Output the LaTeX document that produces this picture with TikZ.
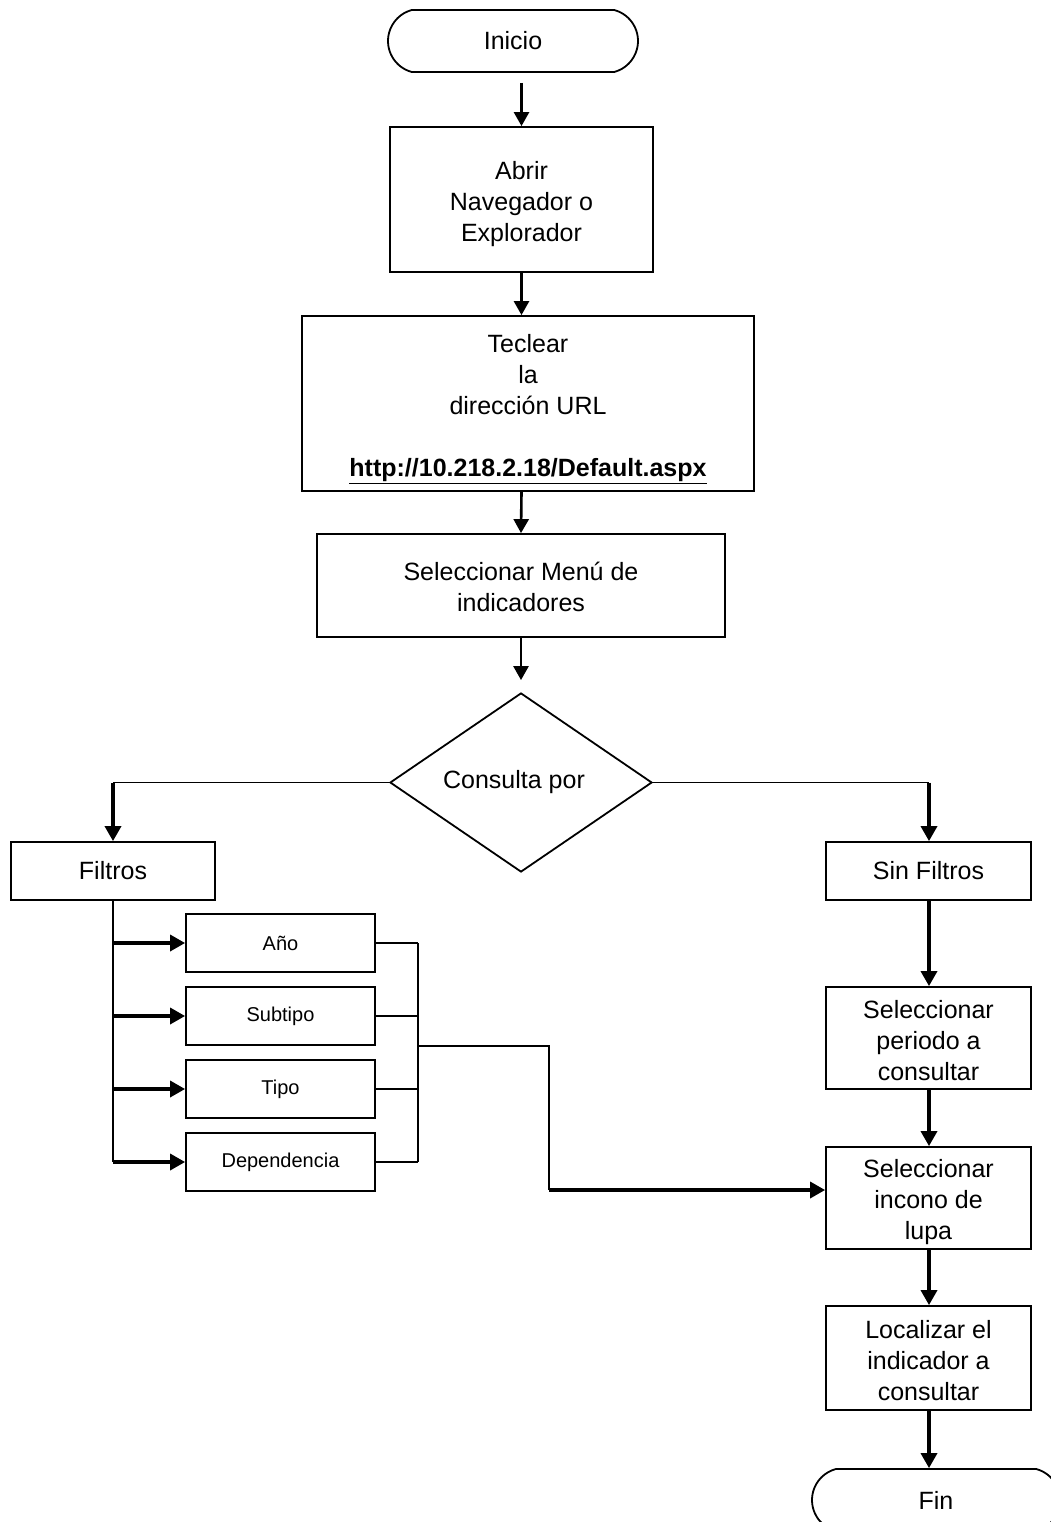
\documentclass[tikz,border=0pt]{standalone}
\usepackage{fontspec}
\setmainfont{Liberation Sans}
\usetikzlibrary{arrows.meta,shapes.geometric,shapes.misc}
\newcommand{\lowr}[1]{\rule{0pt}{#1}}
\begin{document}
\begin{tikzpicture}[x=1pt,y=-1pt,
  every node/.style={font=\fontsize{25}{31}\selectfont, align=center, inner sep=0pt},
  box/.style={draw, line width=1.8pt, rectangle},
  sbox/.style={box, minimum width=189pt, minimum height=58pt, font=\fontsize{20}{24}\selectfont},
  term/.style={draw, line width=1.8pt, rounded rectangle, rounded rectangle arc length=150, minimum width=250pt, minimum height=62pt},
  decis/.style={draw, line width=1.8pt, diamond, minimum width=262pt, minimum height=175pt},
  flow/.style={line width=2.6pt, -{Triangle[length=14pt,width=15pt]}},
  thickflow/.style={line width=3.4pt, -{Triangle[length=15pt,width=16pt]}},
  thinline/.style={line width=1.8pt},
]
\useasboundingbox (0,0) rectangle (1051,1522);
\clip (0,0) rectangle (1051,1522);

\node[term] (inicio) at (513,41) {Inicio};
\node[box, minimum width=263pt, minimum height=145pt] (abrir) at (521.5,199.5) {\lowr{28pt}Abrir\\Navegador o\\Explorador};
\node[box, minimum width=452pt, minimum height=175pt] (teclear) at (528,403.5) {\lowr{30pt}Teclear\\la\\dirección URL\\[31pt]\textbf{\underline{http://10.218.2.18/Default.aspx}}};
\node[box, minimum width=408pt, minimum height=103pt] (menu) at (521,585.5) {\lowr{22pt}Seleccionar Menú de\\indicadores};
\node[decis] (consulta) at (521,782.5) {Consulta por\hspace*{14pt}};

\node[box, minimum width=204pt, minimum height=58pt] (filtros) at (113,871) {Filtros};
\node[box, minimum width=205pt, minimum height=58pt] (sinf) at (928.5,871) {Sin Filtros};

\node[sbox] (anio) at (280.5,943) {Año};
\node[sbox] (subtipo) at (280.5,1016) {Subtipo};
\node[sbox] (tipo) at (280.5,1089) {Tipo};
\node[sbox] (dep) at (280.5,1162) {Dependencia};

\node[box, minimum width=205pt, minimum height=102pt] (periodo) at (928.5,1038) {\lowr{24pt}Seleccionar\\periodo a\\consultar};
\node[box, minimum width=205pt, minimum height=102pt] (lupa) at (928.5,1198) {\lowr{26pt}Seleccionar\\incono de\\lupa};
\node[box, minimum width=205pt, minimum height=104pt] (localizar) at (928.5,1358) {\lowr{24pt}Localizar el\\indicador a\\consultar};
\node[term, minimum width=248pt] (fin) at (936,1500) {Fin};

% main column
\draw[flow, shorten <=10pt] (inicio.south -| abrir.north) -- (abrir.north);
\draw[flow] (abrir.south) -- (abrir.south |- teclear.north);
\draw[flow] (abrir.south |- teclear.south) -- (menu.north);
\draw[flow, shorten >=12pt] (menu.south) -- (consulta.north);

% decision branches
\coordinate (lc) at (113,782.5);
\coordinate (rc) at (929,782.5);
\draw[thinline] (consulta.west) -- (lc);
\draw[thickflow] (lc) -- (filtros.north);
\draw[thinline] (consulta.east) -- (rc);
\draw[thickflow] (rc) -- (rc |- sinf.north);

% filters trunk
\coordinate (tb) at (113,1162);
\draw[thinline] (filtros.south) -- (tb);
\foreach \n in {anio,subtipo,tipo,dep}
  \draw[thickflow] (filtros.south |- \n.west) -- (\n.west);

% filters collector
\coordinate (jt) at (418,943);
\coordinate (jb) at (418,1162);
\coordinate (jm) at (418,1046);
\coordinate (kd) at (549,1190);
\foreach \n in {anio,subtipo,tipo,dep}
  \draw[thinline] (\n.east) -- (\n.east -| jt);
\draw[thinline] (jt) -- (jb);
\draw[thinline] (jm) -| (kd);
\draw[thickflow] (kd) -- (kd -| lupa.west);

% right column
\draw[thickflow] (rc |- sinf.south) -- (rc |- periodo.north);
\draw[thickflow] (rc |- periodo.south) -- (rc |- lupa.north);
\draw[thickflow] (rc |- lupa.south) -- (rc |- localizar.north);
\draw[thickflow] (rc |- localizar.south) -- (rc |- fin.north);
\end{tikzpicture}
\end{document}
